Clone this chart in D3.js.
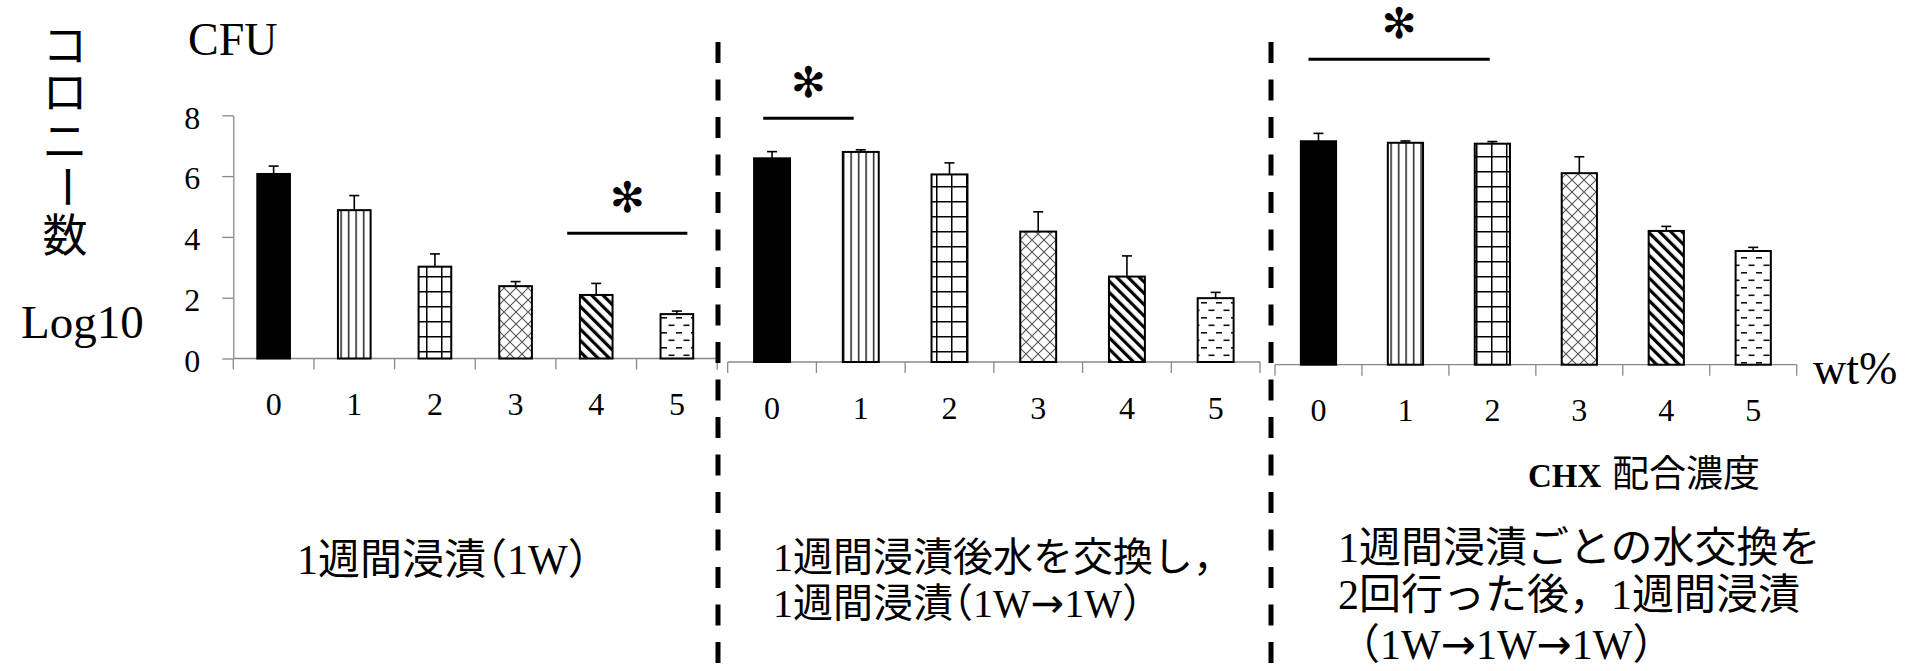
<!DOCTYPE html>
<html>
<head>
<meta charset="utf-8">
<script src="https://cdn.jsdelivr.net/npm/d3@7"></script>
<style>
body{margin:0;background:#fff;}
svg text{font-family:"Liberation Serif","Noto Sans CJK JP",serif;fill:#000;}
.halt{font-feature-settings:"halt";}
.arrow{font-family:"DejaVu Sans";}
</style>
</head>
<body>
<svg id="chart" width="1905" height="671"></svg>
<script>
// CHX concentration (wt%) and colony counts (log10 CFU)
var categories = ['0','1','2','3','4','5'];
var yTicks = [0,2,4,6,8];
var means1W = [6.07,4.88,3.02,2.38,2.09,1.46];
var sd1W = [0.26,0.48,0.42,0.15,0.38,0.10];
var means1W1W = [6.70,6.91,6.17,4.29,2.81,2.10];
var sd1W1W = [0.22,0.07,0.38,0.65,0.68,0.19];
var means1W1W1W = [7.35,7.30,7.27,6.30,4.40,3.74];
var sd1W1W1W = [0.26,0.06,0.07,0.54,0.15,0.12];

// significance bars: category span (band units) and level (log10)
var sigFrom = [4.14,0.40,0.385];
var sigTo = [5.63,1.42,2.47];
var sigLevel = [4.12,8.02,10.05];

var captions = [
    ['1週間浸漬（1W）'],
    ['1週間浸漬後水を交換し，','1週間浸漬（1W→1W）'],
    ['1週間浸漬ごとの水交換を','2回行った後，1週間浸漬','（1W→1W→1W）']
];
var yLabelChars = ['コ','ロ','ニ','ー','数'];

var fills = ['solid','vert','grid','diamond','diag','dash'];
var axisColor = '#898989';
var unitPx = 30.4;

var svg = d3.select('#chart');

// fill patterns
var defs = svg.append('defs');
function addPattern(id, w, h, draw, transform){
    var p = defs.append('pattern')
        .attr('id', id)
        .attr('patternUnits', 'userSpaceOnUse')
        .attr('width', w)
        .attr('height', h);
    if(transform) p.attr('patternTransform', transform);
    p.append('rect').attr('width', w).attr('height', h).attr('fill', '#fff');
    draw(p);
}
addPattern('vert', 7.5, 10, function(p){
    p.append('rect').attr('x', 3).attr('width', 1.3).attr('height', 10).attr('fill', '#000');
});
addPattern('grid', 15, 15, function(p){
    p.append('rect').attr('x', 6).attr('width', 1.5).attr('height', 15).attr('fill', '#000');
    p.append('rect').attr('y', 6).attr('width', 15).attr('height', 1.5).attr('fill', '#000');
});
addPattern('diamond', 12, 12, function(p){
    p.append('path').attr('d', 'M-1,-1L13,13M13,-1L-1,13')
        .attr('stroke', '#555').attr('stroke-width', 1.1).attr('fill', 'none');
});
addPattern('diag', 8, 8, function(p){
    p.append('rect').attr('width', 3.2).attr('height', 8).attr('fill', '#000');
}, 'rotate(-45)');
addPattern('dash', 15, 15, function(p){
    p.append('rect').attr('x', 1).attr('y', 2).attr('width', 6).attr('height', 1.6).attr('fill', '#111');
    p.append('rect').attr('x', 8.5).attr('y', 9.5).attr('width', 6).attr('height', 1.6).attr('fill', '#111');
});

var panels = [
    {x0: 233.3, x1: 717.2, zero: 358.5, means: means1W, sd: sd1W, yAxis: true},
    {x0: 727.7, x1: 1260, zero: 362, means: means1W1W, sd: sd1W1W},
    {x0: 1275, x1: 1796.7, zero: 364.7, means: means1W1W1W, sd: sd1W1W1W}
];

function drawPanel(p, k){
    var g = svg.append('g');
    var band = d3.scaleBand().domain(categories).range([p.x0, p.x1]);
    var pos = d3.scaleLinear().domain([0, categories.length]).range([p.x0, p.x1]);
    var y = d3.scaleLinear().domain([0, 8]).range([p.zero, p.zero - 8*unitPx]);
    var bw = band.bandwidth()*0.405;

    // y axis only on the first panel
    if(p.yAxis){
        var ya = g.append('g')
            .attr('transform', 'translate(' + p.x0 + ',0)')
            .call(d3.axisLeft(y).tickValues(yTicks).tickSize(11).tickSizeOuter(0).tickPadding(22))
            .attr('font-family', null).attr('font-size', 32);
        ya.selectAll('path,line').attr('stroke', axisColor).attr('stroke-width', 1.3);
        ya.selectAll('text').attr('dy', '0.4em');
    }

    // category axis: baseline, edge ticks and labels
    g.append('line')
        .attr('x1', p.x0).attr('x2', p.x1)
        .attr('y1', y(0)).attr('y2', y(0))
        .attr('stroke', axisColor).attr('stroke-width', 1.3);
    g.selectAll('line.edge').data(d3.range(categories.length + 1)).join('line')
        .attr('class', 'edge')
        .attr('x1', function(d){return pos(d);}).attr('x2', function(d){return pos(d);})
        .attr('y1', y(0)).attr('y2', y(0) + 11)
        .attr('stroke', axisColor).attr('stroke-width', 1.3);
    var xa = g.append('g')
        .attr('transform', 'translate(0,' + y(0) + ')')
        .call(d3.axisBottom(band).tickSize(0).tickPadding(34))
        .attr('font-family', null).attr('font-size', 32);
    xa.select('.domain').remove();

    // bars
    g.selectAll('rect.bar').data(p.means).join('rect')
        .attr('class', 'bar')
        .attr('x', function(d, i){return band(categories[i]) + (band.bandwidth() - bw)/2;})
        .attr('y', function(d){return y(d);})
        .attr('width', bw)
        .attr('height', function(d){return y(0) - y(d);})
        .attr('fill', function(d, i){return fills[i] == 'solid' ? '#000' : 'url(#' + fills[i] + ')';})
        .attr('stroke', '#000')
        .attr('stroke-width', 2);

    // upper error whiskers
    var eb = g.selectAll('g.err').data(p.means).join('g').attr('class', 'err');
    eb.append('line')
        .attr('x1', function(d, i){return band(categories[i]) + band.bandwidth()/2;})
        .attr('x2', function(d, i){return band(categories[i]) + band.bandwidth()/2;})
        .attr('y1', function(d){return y(d);})
        .attr('y2', function(d, i){return y(d + p.sd[i]);})
        .attr('stroke', '#000').attr('stroke-width', 1.6);
    eb.append('line')
        .attr('x1', function(d, i){return band(categories[i]) + band.bandwidth()/2 - 5;})
        .attr('x2', function(d, i){return band(categories[i]) + band.bandwidth()/2 + 5;})
        .attr('y1', function(d, i){return y(d + p.sd[i]);})
        .attr('y2', function(d, i){return y(d + p.sd[i]);})
        .attr('stroke', '#000').attr('stroke-width', 1.6);

    // significance
    var sy = y(sigLevel[k]);
    g.append('line')
        .attr('x1', pos(sigFrom[k])).attr('x2', pos(sigTo[k]))
        .attr('y1', sy).attr('y2', sy)
        .attr('stroke', '#000').attr('stroke-width', 3);
    g.append('text')
        .attr('x', (pos(sigFrom[k]) + pos(sigTo[k]))/2)
        .attr('y', sy - 36)
        .attr('text-anchor', 'middle')
        .attr('dominant-baseline', 'central')
        .style('font-family', '"DejaVu Sans"')
        .attr('font-size', 42)
        .attr('font-weight', 'bold')
        .text('✻');
}
panels.forEach(drawPanel);

// dashed separators
[718, 1271].forEach(function(x){
    svg.append('line')
        .attr('x1', x).attr('x2', x)
        .attr('y1', 42).attr('y2', 671)
        .attr('stroke', '#000').attr('stroke-width', 5)
        .attr('stroke-dasharray', '21,16.5');
});

// axis titles
svg.append('text').attr('x', 188).attr('y', 55).attr('font-size', 46).text('CFU');
svg.append('text').attr('x', 21).attr('y', 338).attr('font-size', 47).text('Log10');
var vy = [47, 94, 143, 187, 237];
yLabelChars.forEach(function(c, i){
    svg.append('text')
        .attr('x', 65).attr('y', vy[i])
        .attr('text-anchor', 'middle')
        .attr('dominant-baseline', 'central')
        .attr('font-size', 45)
        .attr('transform', c == 'ー' ? 'rotate(90,65,' + vy[i] + ')' : null)
        .text(c);
});
svg.append('text').attr('x', 1813).attr('y', 384).attr('font-size', 46).text('wt%');
var chx = svg.append('text').attr('x', 1528).attr('y', 487);
chx.append('tspan').attr('font-size', 33).attr('font-weight', 'bold').text('CHX ');
chx.append('tspan').attr('x', 1612).attr('font-size', 37).text('配合濃度');

// condition captions
var capX = [297, 773, 1338];
var capY = [[574], [571, 617], [562, 609, 659]];
var capSize = [42, 40, 42];
captions.forEach(function(lines, k){
    lines.forEach(function(line, j){
        var t = svg.append('text')
            .attr('x', capX[k]).attr('y', capY[k][j])
            .attr('font-size', capSize[k]);
        // brackets half width inside a line, arrows wide
        var parts = line.split(/([（）→])/).filter(function(s){return s.length;});
        parts.forEach(function(s, n){
            var ts = t.append('tspan').text(s);
            if((s == '（' || s == '）') && n > 0) ts.attr('class', 'halt');
            if(s == '→') ts.attr('class', 'arrow');
        });
    });
});
</script>
</body>
</html>
